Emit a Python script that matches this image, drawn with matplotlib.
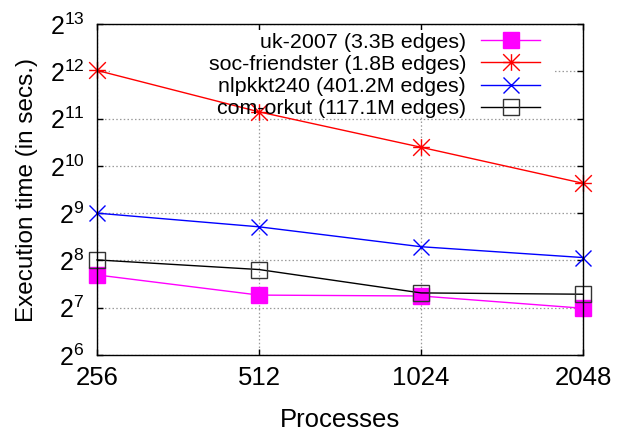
import matplotlib
matplotlib.use("Agg")
import matplotlib.pyplot as plt
from matplotlib.path import Path
from matplotlib.patches import Rectangle
from matplotlib.ticker import NullLocator

plt.rcParams['font.family'] = ['Liberation Sans', 'DejaVu Sans']

# Execution time (secs.), log2 scale
processes = [256, 512, 1024, 2048]
uk_2007 = [207, 154, 152, 127]
soc_friendster = [4150, 2260, 1345, 793]
nlpkkt240 = [512, 419, 313, 267]
com_orkut = [258, 224, 159, 156]

labels = ["uk-2007 (3.3B edges)", "soc-friendster (1.8B edges)",
          "nlpkkt240 (401.2M edges)", "com-orkut (117.1M edges)"]
y_exponents = list(range(6, 14))

# gnuplot style asterisk: '+' over 'x' filling a square
asterisk = Path([(-1, 0), (1, 0), (0, -1), (0, 1), (-1, -1), (1, 1), (-1, 1), (1, -1)],
                [Path.MOVETO, Path.LINETO] * 4)


def main():
    fig = plt.figure(figsize=(6.23, 4.32), dpi=100)
    ax = fig.add_axes([97 / 623, 1 - 355 / 432, 486 / 623, 331 / 432])

    common = dict(linewidth=1.0, markeredgewidth=1.0, clip_on=False)
    ax.plot(processes, uk_2007, color='#ff00ff', marker='s', markersize=12,
            markerfacecolor='#ff00ff', markeredgecolor='#ff00ff', label=labels[0], **common)
    ax.plot(processes, soc_friendster, color='#ff0000', marker=asterisk, markersize=12,
            label=labels[1], **common)
    ax.plot(processes, nlpkkt240, color='#0000ff', marker='x', markersize=11,
            label=labels[2], **common)
    ax.plot(processes, com_orkut, color='black', marker='s', markersize=12,
            markerfacecolor='none', markeredgecolor='#333333', label=labels[3], **common)

    ax.set_xscale('log', base=2)
    ax.set_yscale('log', base=2)
    ax.set_xlim(256, 2048)
    ax.set_ylim(2 ** 6, 2 ** 13)
    ax.set_xticks(processes)
    ax.set_xticklabels([str(p) for p in processes])
    ax.set_yticks([2 ** k for k in y_exponents])
    ax.set_yticklabels([r'$\mathregular{2^{%d}}$' % k for k in y_exponents])
    ax.xaxis.set_minor_locator(NullLocator())
    ax.yaxis.set_minor_locator(NullLocator())

    ax.tick_params(axis='both', which='major', direction='in', length=4.5, width=1.0,
                   top=True, right=True)
    ax.tick_params(axis='x', labelsize=18.5, pad=8)
    ax.tick_params(axis='y', labelsize=18, pad=9)
    for s in ax.spines.values():
        s.set_linewidth(1.0)

    # dotted grid, sits under the opaque key box
    ax.set_axisbelow(True)
    ax.grid(True, which='major', color='#9a9a9a', linestyle=(0, (1.2, 1.8)), linewidth=0.9)

    # opaque key background (gnuplot hides the grid behind the key)
    ax.add_patch(Rectangle((13 / 486, 1 - 93 / 331), 443 / 486, 87 / 331,
                           transform=ax.transAxes, facecolor='white', edgecolor='none', zorder=1))

    ax.legend(loc='center right', bbox_to_anchor=(443 / 486, 1 - 51.5 / 331),
              frameon=False, markerfirst=False, fontsize=15.4, handlelength=2.75,
              handletextpad=0.7, labelspacing=0.15, borderpad=0, borderaxespad=0)

    ax.set_xlabel("Processes", fontsize=18.5, labelpad=13)
    ax.set_ylabel("Execution time (in secs.)", fontsize=17.5)
    ax.yaxis.set_label_coords(-59 / 486, 0.5)

    fig.savefig("out.png", dpi=100)


if __name__ == "__main__":
    main()
